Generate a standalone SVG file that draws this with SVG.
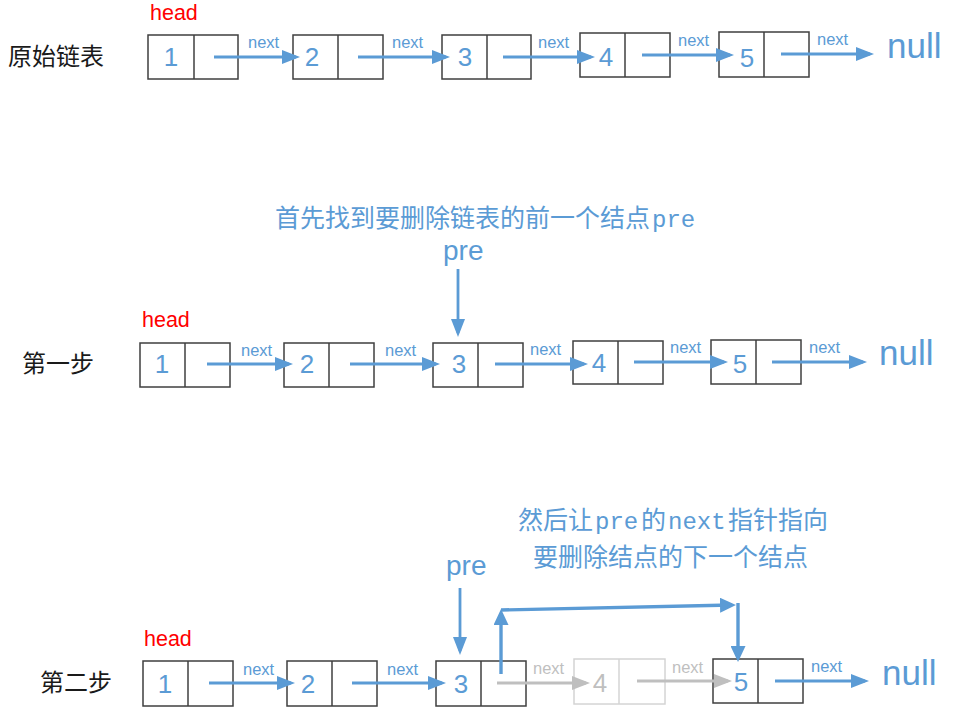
<svg xmlns="http://www.w3.org/2000/svg" width="969" height="719" viewBox="0 0 969 719">
<defs>
<style>
.box{fill:#fff;stroke:#3f3f3f;stroke-width:1.5}
.gbox{fill:#fff;stroke:#d4d4d4;stroke-width:1.5}
.num{font-family:"Liberation Sans",Arial,sans-serif;font-size:26px;fill:#5b9bd5;text-anchor:middle}
.gnum{font-family:"Liberation Sans",Arial,sans-serif;font-size:26px;fill:#bfbfbf;text-anchor:middle}
.nx{font-family:"Liberation Sans",Arial,sans-serif;font-size:16.5px;fill:#5b9bd5}
.gnx{font-family:"Liberation Sans",Arial,sans-serif;font-size:16.5px;fill:#bfbfbf}
.null{font-family:"Liberation Sans",Arial,sans-serif;font-size:35px;fill:#5b9bd5}
.head{font-family:"Liberation Sans",Arial,sans-serif;font-size:21.5px;fill:#ff0000}
.pre{font-family:"Liberation Sans",Arial,sans-serif;font-size:28px;fill:#5b9bd5}
.cn{font-family:"Noto Sans CJK SC",sans-serif;font-size:24px;fill:#1a1a1a}
.note{font-family:"Noto Sans CJK SC",sans-serif;font-size:25px;fill:#5b9bd5}
.mono{font-family:"Liberation Mono",monospace;font-size:24px;fill:#5b9bd5}
.ar{fill:none;stroke:#5b9bd5;stroke-width:2.8;marker-end:url(#ah)}
.gar{fill:none;stroke:#bfbfbf;stroke-width:2.8;marker-end:url(#gah)}
.bar{fill:none;stroke:#5b9bd5;stroke-width:3.4;marker-end:url(#bah)}
</style>
<marker id="ah" markerUnits="userSpaceOnUse" markerWidth="18" markerHeight="14" refX="14" refY="7" orient="auto"><path d="M0,0 L18,7 L0,14 Z" fill="#5b9bd5"/></marker>
<marker id="gah" markerUnits="userSpaceOnUse" markerWidth="18" markerHeight="14" refX="14" refY="7" orient="auto"><path d="M0,0 L18,7 L0,14 Z" fill="#bfbfbf"/></marker>
<marker id="bah" markerUnits="userSpaceOnUse" markerWidth="16" markerHeight="15" refX="12" refY="7.5" orient="auto"><path d="M0,0 L16,7.5 L0,15 Z" fill="#5b9bd5"/></marker>
</defs>
<rect width="969" height="719" fill="#fff"/>

<!-- Row 1 -->
<g id="label-row1"><text class="cn" x="8" y="65">原始链表</text></g>
<g id="head-row1"><text class="head" x="150" y="20">head</text></g>
<g id="r1-n1"><rect class="box" x="148" y="35" width="90" height="44"/><line class="box" x1="194" y1="35" x2="194" y2="79"/><text class="num" x="171" y="66">1</text></g>
<g id="r1-n2"><rect class="box" x="293" y="35" width="90" height="44"/><line class="box" x1="338" y1="35" x2="338" y2="79"/><text class="num" x="312" y="66">2</text></g>
<g id="r1-n3"><rect class="box" x="442" y="35" width="89" height="44"/><line class="box" x1="487" y1="35" x2="487" y2="79"/><text class="num" x="465" y="66">3</text></g>
<g id="r1-n4"><rect class="box" x="580" y="33" width="90" height="44"/><line class="box" x1="625" y1="33" x2="625" y2="77"/><text class="num" x="606" y="66">4</text></g>
<g id="r1-n5"><rect class="box" x="719" y="32" width="90" height="45"/><line class="box" x1="764" y1="32" x2="764" y2="77"/><text class="num" x="747" y="67">5</text></g>
<g id="r1-null"><text class="null" x="887" y="58">null</text></g>

<!-- Row 2 -->
<g id="label-row2"><text class="cn" x="22" y="372">第一步</text></g>
<g id="head-row2"><text class="head" x="142" y="327">head</text></g>
<g id="note1"><text class="note" x="275" y="227">首先找到要删除链表的前一个结点</text><text class="mono" x="652" y="227">pre</text></g>
<g id="pre-row2"><text class="pre" x="443" y="260">pre</text></g>
<g id="r2-n1"><rect class="box" x="140" y="343" width="90" height="44"/><line class="box" x1="185" y1="343" x2="185" y2="387"/><text class="num" x="162" y="373">1</text></g>
<g id="r2-n2"><rect class="box" x="284" y="343" width="90" height="44"/><line class="box" x1="329" y1="343" x2="329" y2="387"/><text class="num" x="307" y="373">2</text></g>
<g id="r2-n3"><rect class="box" x="433" y="343" width="90" height="44"/><line class="box" x1="478" y1="343" x2="478" y2="387"/><text class="num" x="459" y="373">3</text></g>
<g id="r2-n4"><rect class="box" x="573" y="341" width="90" height="43"/><line class="box" x1="618" y1="341" x2="618" y2="384"/><text class="num" x="599" y="372">4</text></g>
<g id="r2-n5"><rect class="box" x="711" y="340" width="90" height="44"/><line class="box" x1="756" y1="340" x2="756" y2="384"/><text class="num" x="740" y="373">5</text></g>
<g id="r2-null"><text class="null" x="879" y="365">null</text></g>

<!-- Row 3 -->
<g id="label-row3"><text class="cn" x="40" y="691">第二步</text></g>
<g id="head-row3"><text class="head" x="144" y="646">head</text></g>
<g id="note2">
<text class="note" x="518" y="529">然后让</text>
<text class="mono" x="595" y="529">pre</text>
<text class="note" x="641" y="529">的</text>
<text class="mono" x="668" y="529">next</text>
<text class="note" x="728" y="529">指针指向</text>
<text class="note" x="533" y="566">要删除结点的下一个结点</text>
</g>
<g id="pre-row3"><text class="pre" x="446" y="575">pre</text></g>
<g id="r3-n1"><rect class="box" x="143" y="661" width="90" height="45"/><line class="box" x1="188" y1="661" x2="188" y2="706"/><text class="num" x="165" y="693">1</text></g>
<g id="r3-n2"><rect class="box" x="287" y="661" width="90" height="45"/><line class="box" x1="332" y1="661" x2="332" y2="706"/><text class="num" x="308" y="693">2</text></g>
<g id="r3-n3"><rect class="box" x="436" y="661" width="90" height="45"/><line class="box" x1="481" y1="661" x2="481" y2="706"/><text class="num" x="461" y="693">3</text></g>
<g id="r3-n4"><rect class="gbox" x="574" y="659" width="91" height="45"/><line class="gbox" x1="619" y1="659" x2="619" y2="704"/><text class="gnum" x="600" y="692">4</text></g>
<g id="r3-n5"><rect class="box" x="713" y="659" width="90" height="44"/><line class="box" x1="758" y1="659" x2="758" y2="703"/><text class="num" x="741" y="691">5</text></g>
<g id="r3-null"><text class="null" x="882" y="685">null</text></g>

<!-- Connectors -->
<g id="connectors">
<path class="ar" d="M214,57 H296"/><text class="nx" x="248" y="48">next</text>
<path class="ar" d="M358,57 H446"/><text class="nx" x="392" y="48">next</text>
<path class="ar" d="M503,57 H591"/><text class="nx" x="538" y="48">next</text>
<path class="ar" d="M642,55 H730"/><text class="nx" x="678" y="46">next</text>
<path class="ar" d="M781,54 H870"/><text class="nx" x="817" y="45">next</text>

<path class="ar" d="M458,269 V333"/>
<path class="ar" d="M207,364 H289"/><text class="nx" x="241" y="356">next</text>
<path class="ar" d="M350,364 H436"/><text class="nx" x="385" y="356">next</text>
<path class="ar" d="M495,364 H584"/><text class="nx" x="530" y="355">next</text>
<path class="ar" d="M634,362 H724"/><text class="nx" x="670" y="353">next</text>
<path class="ar" d="M772,362 H863"/><text class="nx" x="809" y="353">next</text>

<path class="ar" d="M460,588 V651"/>
<path class="ar" d="M209,683 H291"/><text class="nx" x="243" y="675">next</text>
<path class="ar" d="M352,683 H442"/><text class="nx" x="387" y="675">next</text>
<path class="gar" d="M497,683 H586"/><text class="gnx" x="533" y="674">next</text>
<path class="gar" d="M637,681 H728"/><text class="gnx" x="672" y="673">next</text>
<path class="ar" d="M775,681 H865"/><text class="nx" x="811" y="672">next</text>

<path class="bar" d="M501,674 V613"/>
<path class="bar" d="M501,610 L732,605"/>
<path class="bar" d="M738,603 V658"/>
</g>
</svg>
